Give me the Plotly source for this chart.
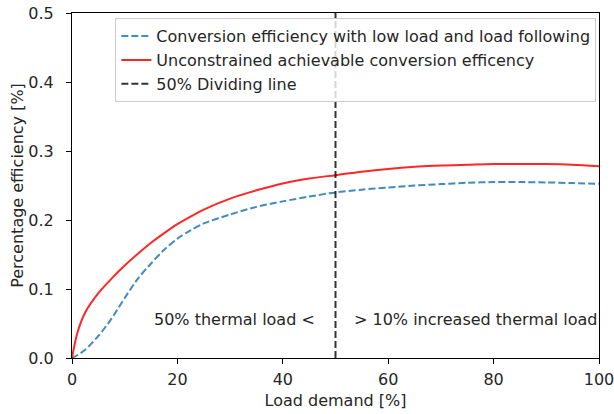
import plotly.graph_objects as go

load_x = [0, 1, 2.5, 5, 7.5, 10, 12.5, 15, 17.5, 20, 22.5, 25, 30, 35, 40, 45, 50,
          55, 60, 65, 70, 75, 80, 85, 90, 95, 100]
low_load_eff = [0, 0.004, 0.012, 0.032, 0.057, 0.087, 0.115, 0.137, 0.157, 0.173,
                0.185, 0.195, 0.208, 0.219, 0.227, 0.234, 0.240, 0.244, 0.247,
                0.250, 0.252, 0.254, 0.255, 0.255, 0.2545, 0.2535, 0.2525]
unconstrained_eff = [0, 0.036, 0.066, 0.094, 0.115, 0.134, 0.151, 0.167, 0.181,
                     0.194, 0.205, 0.215, 0.231, 0.243, 0.253, 0.260, 0.265, 0.270,
                     0.274, 0.277, 0.279, 0.280, 0.281, 0.281, 0.281, 0.280, 0.278]
divider_x = [50, 50]
divider_y = [0, 0.5]
x_ticks = [0, 20, 40, 60, 80, 100]
y_ticks = [0.0, 0.1, 0.2, 0.3, 0.4, 0.5]
y_tick_labels = ["0.0", "0.1", "0.2", "0.3", "0.4", "0.5"]

FONT = "DejaVu Sans"
FS = 16
TXT = "#262626"
fig = go.Figure()
fig.add_trace(go.Scatter(
    x=load_x, y=low_load_eff, mode="lines", line_shape="spline",
    name="Conversion efficiency with low load and load following",
    line=dict(color="rgba(31,119,180,0.85)", width=2, dash="7px,3px", smoothing=0.8)))
fig.add_trace(go.Scatter(
    x=load_x, y=unconstrained_eff, mode="lines", line_shape="spline",
    name="Unconstrained achievable conversion efficency",
    line=dict(color="rgba(255,0,0,0.85)", width=2, smoothing=0.8)))
fig.add_trace(go.Scatter(
    x=divider_x, y=divider_y, mode="lines",
    name="50% Dividing line",
    line=dict(color="rgba(0,0,0,0.8)", width=2, dash="7px,3px")))

fig.add_annotation(x=30.9, y=0.0565, text="50% thermal load <", showarrow=False,
                   font=dict(family=FONT, size=FS, color=TXT))
fig.add_annotation(x=76.7, y=0.0565, text="> 10% increased thermal load", showarrow=False,
                   font=dict(family=FONT, size=FS, color=TXT))

axis_common = dict(showline=True, linecolor="black", linewidth=1, mirror=True,
                   ticks="outside", ticklen=5, tickcolor="black", showgrid=False,
                   zeroline=False, automargin=False, ticklabeloverflow="allow",
                   tickfont=dict(family=FONT, size=FS, color=TXT))
fig.update_xaxes(range=[0, 100], tickvals=x_ticks, ticklabelstandoff=2,
                 title=dict(text="Load demand [%]", font=dict(family=FONT, size=FS, color=TXT), standoff=6),
                 **axis_common)
fig.update_yaxes(range=[0, 0.5], tickvals=y_ticks, ticktext=y_tick_labels, ticklabelstandoff=9,
                 title=dict(text="Percentage efficiency [%]", font=dict(family=FONT, size=FS, color=TXT), standoff=0),
                 **axis_common)
fig.update_layout(
    width=614, height=414,
    margin=dict(l=72, r=15, t=13, b=56),
    plot_bgcolor="white", paper_bgcolor="white",
    font=dict(family=FONT, size=FS, color=TXT),
    legend=dict(x=0.995, y=0.985, xanchor="right", yanchor="top",
                bgcolor="rgba(255,255,255,0.8)", bordercolor="#cccccc", borderwidth=1,
                font=dict(family=FONT, size=FS, color=TXT), tracegroupgap=0,
                itemwidth=30),
    showlegend=True,
)
fig.write_html("out.html", config={"displayModeBar": False},
               post_script="document.body.style.margin='0px';document.body.style.overflow='hidden';")
